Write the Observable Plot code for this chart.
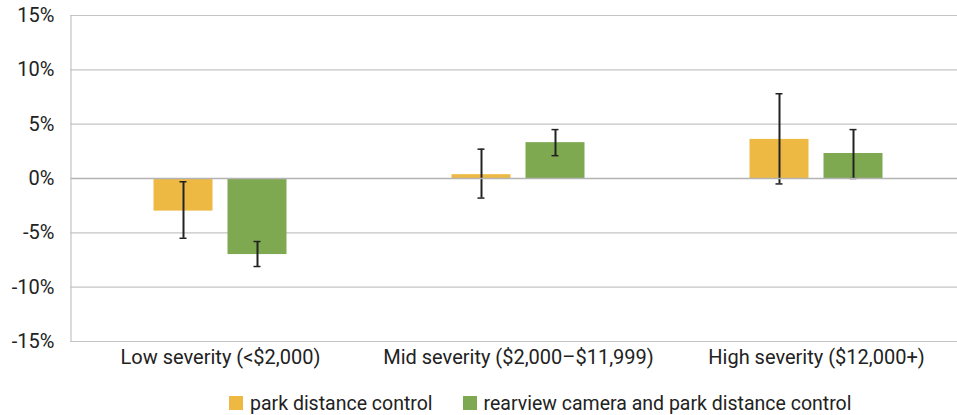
<!DOCTYPE html>
<html>
<head>
<meta charset="utf-8">
<script src="https://cdn.jsdelivr.net/npm/d3@7"></script>
<script src="https://cdn.jsdelivr.net/npm/@observablehq/plot@0.6"></script>
<style>
  html, body { margin: 0; padding: 0; background: #fff; }
  body { width: 957px; height: 415px; overflow: hidden; font-family: "Liberation Sans Narrow", "Roboto", "Liberation Sans", sans-serif; }
  #chart svg { display: block; }
  #legend { display: flex; align-items: center; margin-left: 229px; height: 30px; margin-top: 16px; font-size: 19.5px; color: #222; }
  .item { display: flex; align-items: center; margin-right: 30px; }
  .sw { width: 14px; height: 14px; margin-right: 7px; }
</style>
</head>
<body>
<div id="chart"></div>
<div id="legend"></div>
<script>
const categories = ["Low severity (<$2,000)", "Mid severity ($2,000–$11,999)", "High severity ($12,000+)"];
const seriesNames = ["park distance control", "rearview camera and park distance control"];
const seriesColors = ["#EDB943", "#7FA951"];
const pdcValues = [-3.0, 0.35, 3.6];
const pdcLow = [-5.5, -1.8, -0.5];
const pdcHigh = [-0.3, 2.7, 7.8];
const rcValues = [-7.0, 3.3, 2.3];
const rcLow = [-8.1, 2.1, 0.0];
const rcHigh = [-5.8, 4.5, 4.5];
const yTicks = [-15, -10, -5, 0, 5, 10, 15];

const rows = [];
categories.forEach((c, i) => {
  rows.push({category: c, series: seriesNames[0], value: pdcValues[i], low: pdcLow[i], high: pdcHigh[i]});
  rows.push({category: c, series: seriesNames[1], value: rcValues[i], low: rcLow[i], high: rcHigh[i]});
});

const font = "'Liberation Sans Narrow', Roboto, 'Liberation Sans', sans-serif";
const inner = 82.5, outer = 156.5; // bar insets inside each 299px band
const off = 37;

function seriesMarks(name, insetL, insetR, dx) {
  const d = rows.filter(r => r.series === name);
  return [
    Plot.barY(d, {x: "category", y: "value", fill: seriesColors[seriesNames.indexOf(name)], insetLeft: insetL, insetRight: insetR}),
    Plot.ruleX(d, {x: "category", y1: "low", y2: "high", dx, stroke: "#222", strokeWidth: 2}),
    Plot.tickY(d, {x: "category", y: "low", dx, stroke: "#222", strokeWidth: 1.5, insetLeft: 145.5, insetRight: 145.5}),
    Plot.tickY(d, {x: "category", y: "high", dx, stroke: "#222", strokeWidth: 1.5, insetLeft: 145.5, insetRight: 145.5})
  ];
}

const plot = Plot.plot({
  width: 957,
  height: 372,
  marginLeft: 70,
  marginRight: -9.5,
  marginTop: 15,
  marginBottom: 31,
  style: {fontFamily: font, fontSize: "20px", color: "#222", background: "#fff"},
  x: {domain: categories, padding: 0, label: null},
  y: {domain: [-15, 15], label: null},
  marks: [
    Plot.ruleY(yTicks.filter(t => t !== 0), {stroke: "#c4c4c4", strokeWidth: 1.2}),
    Plot.axisY(yTicks, {tickSize: 0, tickPadding: 16, tickFormat: d => `${d}%`, label: null, fontSize: 20}),
    Plot.axisX({tickSize: 0, tickPadding: 8, label: null, fontSize: 20}),
    ...seriesMarks(seriesNames[0], inner, outer, -off),
    ...seriesMarks(seriesNames[1], outer, inner, off),
    Plot.ruleY([0], {stroke: "#b3b3b3", strokeWidth: 1.5}),
    Plot.ruleX([categories[0]], {dx: -149.5, y1: -15, y2: 15, stroke: "#c4c4c4", strokeWidth: 1.2})
  ]
});
document.getElementById("chart").appendChild(plot);

const legend = document.getElementById("legend");
seriesNames.forEach((n, i) => {
  const it = document.createElement("div");
  it.className = "item";
  it.innerHTML = `<div class="sw" style="background:${seriesColors[i]}"></div><span>${n}</span>`;
  legend.appendChild(it);
});
</script>
</body>
</html>
